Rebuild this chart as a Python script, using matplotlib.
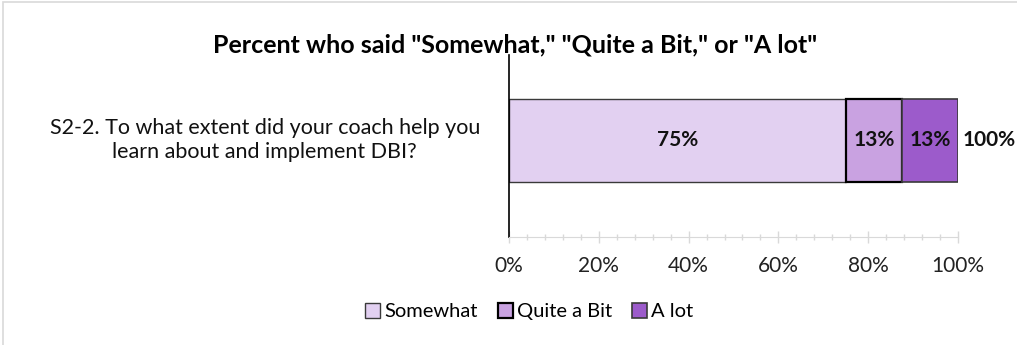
import matplotlib.pyplot as plt
from matplotlib.patches import Rectangle
from matplotlib.ticker import MultipleLocator, PercentFormatter

plt.rcParams['font.family'] = ['Lato', 'DejaVu Sans']

# survey item and response shares (percent)
question = "S2-2. To what extent did your coach help you\nlearn about and implement DBI?"
responses = ["Somewhat", "Quite a Bit", "A lot"]
shares = [75, 12.5, 12.5]
colors = ["#E2D0F1", "#C9A2E1", "#9C5BCB"]
edges = ["#3a3a3a", "#000000", "#3a3a3a"]
edge_widths = [1.0, 1.6, 1.2]

fig = plt.figure(figsize=(10.17, 3.45), dpi=100)
ax = fig.add_axes([0.5005, 0.313, 0.4415, 0.528])

left = 0
for name, val, col, ec, lw in zip(responses, shares, colors, edges, edge_widths):
    ax.barh(0, val, left=left, height=0.456, color=col, edgecolor=ec,
            linewidth=lw, label=name)
    ax.text(left + val / 2, 0, f"{int(val + 0.5)}%", ha='center', va='center',
            fontsize=15, fontweight='bold', color='#111111')
    left += val

# total at the end of the bar
ax.text(left + 1.0, 0, f"{int(sum(shares) + 0.5)}%", ha='left', va='center',
        fontsize=15, fontweight='bold', color='#111111')

ax.set_xlim(0, 100)
ax.set_ylim(-0.53, 0.47)
ax.xaxis.set_major_locator(MultipleLocator(20))
ax.xaxis.set_minor_locator(MultipleLocator(4))
ax.xaxis.set_major_formatter(PercentFormatter(decimals=0))
ax.tick_params(axis='x', which='major', length=8, width=1, color='#d9d9d9',
               direction='inout', labelsize=15, pad=10, labelcolor='#222222')
ax.tick_params(axis='x', which='minor', length=5, width=1, color='#d9d9d9',
               direction='inout')
ax.set_yticks([])
for side in ['top', 'right']:
    ax.spines[side].set_visible(False)
ax.spines['bottom'].set_color('#d9d9d9')
ax.spines['left'].set_color('black')
ax.spines['left'].set_linewidth(1.2)

fig.text(0.472, 0.594, question, ha='right', va='center', fontsize=15.5,
         color='#111111', linespacing=1.22, multialignment='center')

fig.suptitle('Percent who said "Somewhat," "Quite a Bit," or "A lot"',
             x=0.506, y=0.87, va='center', fontsize=18, fontweight='bold')

ax.legend(loc='center', bbox_to_anchor=(0.045, -0.41), ncol=3, frameon=False,
          fontsize=14.5, handlelength=0.75, handleheight=0.75, handletextpad=0.2,
          columnspacing=1.0, borderaxespad=0)

# chart frame (only the top and left edges fall inside the image)
fig.patches.append(Rectangle((3 / 1017, -0.1), 1.2, 1.1 - 2 / 345,
                             transform=fig.transFigure, fill=False,
                             edgecolor='#d9d9d9', linewidth=1.2))

fig.savefig('out.png', dpi=100)
